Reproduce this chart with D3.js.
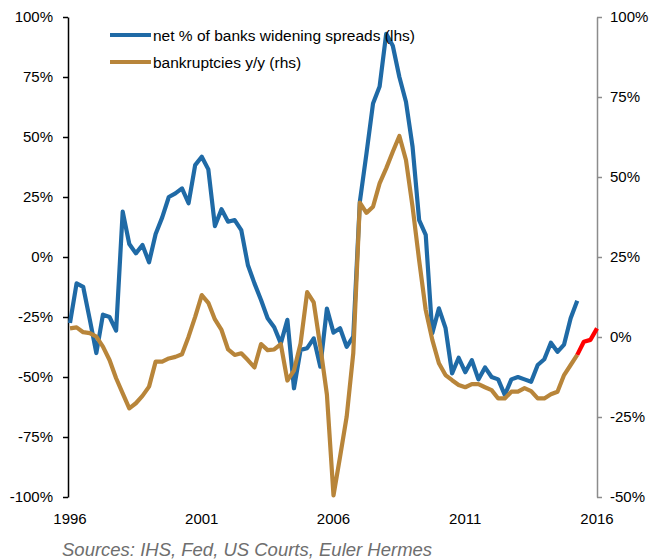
<!DOCTYPE html>
<html>
<head>
<meta charset="utf-8">
<script src="https://cdnjs.cloudflare.com/ajax/libs/d3/7.8.5/d3.min.js"></script>
<style>
  body { margin: 0; background: #fff; }
  svg { font-family: "Liberation Sans", Arial, sans-serif; }
</style>
</head>
<body>
<svg id="chart" width="664" height="560"></svg>
<script>
// quarterly series, first point = 1996 Q1
const startYear = 1996;

// net % of banks widening spreads (lhs)
const spreads = [
  -27.5, -11, -12.4, -26, -40, -24, -25, -30.7, 18.9, 5.4,
  1.5, 5, -2.2, 9.6, 16.5, 25, 26.5, 28.6, 22.4, 38.3,
  41.8, 36.5, 12.9, 19.9, 14.7, 15.4, 11.2, -3.3, -11, -17.9,
  -25.5, -29.3, -36, -26.2, -54.7, -38.7, -38, -33.9, -45.7, -21.5,
  -31.5, -29.7, -37.4, -33.2, 23, 43, 64, 71, 93, 88,
  75, 64.7, 46, 15.4, 9.2, -31.8, -21.4, -29.5, -48.5, -42,
  -48, -43, -51, -46, -50, -51, -57.5, -51, -50, -51,
  -52, -45, -42.6, -35.7, -39.5, -36.5, -25.5, -18.2
];

// bankruptcies y/y (rhs)
const bankruptcies = [
  2.7, 3.0, 1.5, 1.2, 0.1, -3, -7.2, -12.9, -17.6, -22.3,
  -20.7, -18.4, -15.5, -7.7, -7.7, -6.7, -6.2, -5.4, 0.1, 6.3,
  13.1, 10.7, 5.5, 2.2, -3.9, -5.6, -5.1, -7.2, -9.5, -2.2,
  -4.1, -3.9, -2.2, -13.6, -10.5, -2, 14, 10.8, -3, -18,
  -49.5, -37.4, -24.9, -5.1, 42, 38.8, 40.7, 48, 52.7, 57.9,
  62.8, 55.3, 40.7, 24, 8.4, -0.9, -8.2, -11.9, -13.5, -15,
  -15.7, -14.7, -14.7, -15.7, -16.6, -19.2, -19.2, -17.1, -17.1, -16,
  -16.9, -19.2, -19.2, -17.9, -17.1, -11.9, -8.75, -5.6, -1.5, -0.9,
  2.7
];
// from this index on the bankruptcies line is drawn red
const redFrom = 77;

const xTicks = [1996, 2001, 2006, 2011, 2016];
const leftTicks = [-100, -75, -50, -25, 0, 25, 50, 75, 100];
const rightTicks = [-50, -25, 0, 25, 50, 75, 100];

const legendItems = [
  { label: 'net % of banks widening spreads (lhs)', color: '#1f6aa6' },
  { label: 'bankruptcies y/y (rhs)', color: '#b8853a' },
];
const source = 'Sources: IHS, Fed, US Courts, Euler Hermes';

const svg = d3.select('#chart');

const x = d3.scaleLinear().domain([1996, 2016]).range([70, 597]);
const yL = d3.scaleLinear().domain([-100, 100]).range([497, 17]);
const yR = d3.scaleLinear().domain([-50, 100]).range([497, 17]);

function toPoints(arr) {
  return arr.map((v, i) => ({ t: startYear + i / 4, v: v, i: i }));
}

// left axis
let leftAxis = svg.append('g')
  .attr('transform', 'translate(68,0)')
  .call(d3.axisLeft(yL).tickValues(leftTicks).tickSize(5).tickSizeOuter(0)
    .tickFormat(d => d + '%'));
leftAxis.select('.domain').attr('stroke', '#000').attr('stroke-width', 1.5);
leftAxis.selectAll('.tick line').attr('stroke', '#000').attr('stroke-width', 1.5);
leftAxis.selectAll('.tick text')
  .attr('x', -15).attr('font-size', 15).attr('fill', '#000')
  .attr('font-family', '"Liberation Sans", Arial, sans-serif');

// right axis
let rightAxis = svg.append('g')
  .attr('transform', 'translate(597,0)')
  .call(d3.axisRight(yR).tickValues(rightTicks).tickSize(5).tickSizeOuter(0)
    .tickFormat(d => d + '%'));
rightAxis.select('.domain').attr('stroke', '#8c8c8c').attr('stroke-width', 1.5);
rightAxis.selectAll('.tick line').attr('stroke', '#8c8c8c').attr('stroke-width', 1.5);
rightAxis.selectAll('.tick text')
  .attr('x', 13).attr('font-size', 15).attr('fill', '#000')
  .attr('font-family', '"Liberation Sans", Arial, sans-serif');

// year labels (no axis line)
svg.append('g').selectAll('text')
  .data(xTicks)
  .join('text')
  .attr('x', d => x(d))
  .attr('y', 524)
  .attr('text-anchor', 'middle')
  .attr('font-size', 15)
  .text(d => d);

const line = (ys) => d3.line().x(d => x(d.t)).y(d => ys(d.v));

svg.append('path')
  .datum(toPoints(spreads))
  .attr('fill', 'none')
  .attr('stroke', legendItems[0].color)
  .attr('stroke-width', 4.2)
  .attr('stroke-linejoin', 'round')
  .attr('d', line(yL));

let bk = toPoints(bankruptcies);
svg.append('path')
  .datum(bk.filter(d => d.i <= redFrom))
  .attr('fill', 'none')
  .attr('stroke', legendItems[1].color)
  .attr('stroke-width', 4.2)
  .attr('stroke-linejoin', 'round')
  .attr('d', line(yR));
svg.append('path')
  .datum(bk.filter(d => d.i >= redFrom))
  .attr('fill', 'none')
  .attr('stroke', '#ff0000')
  .attr('stroke-width', 4.2)
  .attr('stroke-linejoin', 'round')
  .attr('d', line(yR));

// legend
let legend = svg.append('g').attr('transform', 'translate(110,35)');
legendItems.forEach((item, i) => {
  let g = legend.append('g').attr('transform', `translate(0,${i * 27})`);
  g.append('line')
    .attr('x1', 0).attr('x2', 41)
    .attr('stroke', item.color).attr('stroke-width', 4.2);
  g.append('text')
    .attr('x', 43).attr('y', 5.5)
    .attr('font-size', 15.5)
    .text(item.label);
});

svg.append('text')
  .attr('x', 62).attr('y', 556)
  .attr('font-size', 18.5)
  .attr('font-style', 'italic')
  .attr('fill', '#6e6e6e')
  .text(source);
</script>
</body>
</html>
